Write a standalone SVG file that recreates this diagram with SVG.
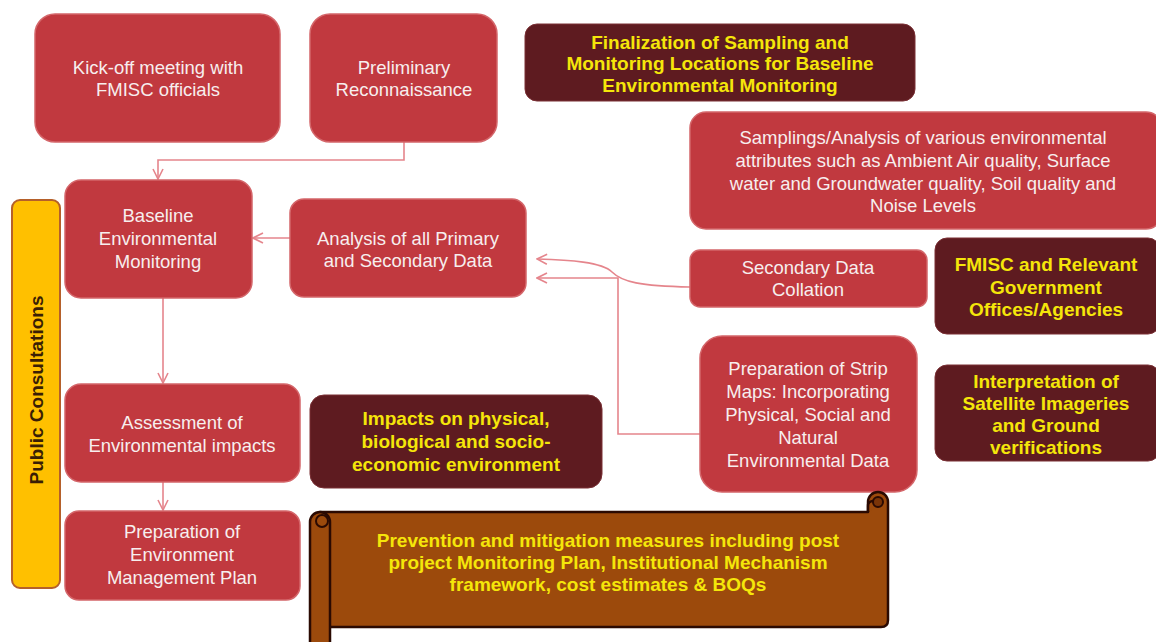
<svg xmlns="http://www.w3.org/2000/svg" width="1156" height="642" viewBox="0 0 1156 642">
<defs>
<style>
.red{fill:#C1393F;stroke:#D4666A;stroke-width:1.5}
.dark{fill:#5E1B20;stroke:#7A3035;stroke-width:1}
.wt{font-family:"Liberation Sans",Arial,sans-serif;font-size:18.5px;fill:#F7EEEE;text-anchor:middle}
.yt{font-family:"Liberation Sans",Arial,sans-serif;font-size:19px;font-weight:bold;fill:#F5E60A;text-anchor:middle}
.conn{fill:none;stroke:#E5858C;stroke-width:1.6}
.scroll{fill:#9C4A0C;stroke:#2B0A02;stroke-width:2.5;stroke-linejoin:round}
</style>
<marker id="arr" viewBox="0 0 12 12" refX="11" refY="6" markerWidth="12" markerHeight="12" markerUnits="userSpaceOnUse" orient="auto">
<path d="M1,1 L11,6 L1,11" fill="none" stroke="#E5858C" stroke-width="1.6"/>
</marker>
</defs>
<rect width="1156" height="642" fill="#FFFFFF"/>

<g id="connectors">
<path class="conn" d="M404,142 V160 H158 V179" marker-end="url(#arr)"/>
<path class="conn" d="M290,238 H253" marker-end="url(#arr)"/>
<path class="conn" d="M163,298 V383" marker-end="url(#arr)"/>
<path class="conn" d="M163,482 V510" marker-end="url(#arr)"/>
<path class="conn" d="M690,287 C640,286 622,282 612,272 C602,262 570,260 537,259" marker-end="url(#arr)"/>
<path class="conn" d="M700,434 H618 V278 H537" marker-end="url(#arr)"/>
</g>

<g id="kickoff">
<rect class="red" x="35" y="14" width="245" height="128" rx="20"/>
<text class="wt" x="158" y="74">Kick-off meeting with</text>
<text class="wt" x="158" y="96">FMISC officials</text>
</g>

<g id="preliminary">
<rect class="red" x="310" y="14" width="187" height="128" rx="20"/>
<text class="wt" x="404" y="74">Preliminary</text>
<text class="wt" x="404" y="96">Reconnaissance</text>
</g>

<g id="finalization">
<rect class="dark" x="525" y="24" width="390" height="77" rx="12"/>
<text class="yt" x="720" y="49">Finalization of Sampling and</text>
<text class="yt" x="720" y="70">Monitoring Locations for Baseline</text>
<text class="yt" x="720" y="92">Environmental Monitoring</text>
</g>

<g id="samplings">
<rect class="red" x="690" y="112" width="472" height="117" rx="16"/>
<text class="wt" x="923" y="144">Samplings/Analysis of various environmental</text>
<text class="wt" x="923" y="167">attributes such as Ambient Air quality, Surface</text>
<text class="wt" x="923" y="190">water and Groundwater quality, Soil quality and</text>
<text class="wt" x="923" y="212">Noise Levels</text>
</g>

<g id="public-consultations">
<rect x="12" y="200" width="48" height="388" rx="8" fill="#FFC000" stroke="#B5602A" stroke-width="2"/>
<text x="0" y="0" transform="translate(43,390) rotate(-90)" font-family="'Liberation Sans',Arial,sans-serif" font-size="19" font-weight="bold" fill="#3A1E05" text-anchor="middle">Public Consultations</text>
</g>

<g id="baseline">
<rect class="red" x="65" y="180" width="187" height="118" rx="16"/>
<text class="wt" x="158" y="222">Baseline</text>
<text class="wt" x="158" y="245">Environmental</text>
<text class="wt" x="158" y="268">Monitoring</text>
</g>

<g id="analysis">
<rect class="red" x="290" y="199" width="236" height="98" rx="14"/>
<text class="wt" x="408" y="245">Analysis of all Primary</text>
<text class="wt" x="408" y="267">and Secondary Data</text>
</g>

<g id="secondary">
<rect class="red" x="690" y="250" width="237" height="57" rx="10"/>
<text class="wt" x="808" y="274">Secondary Data</text>
<text class="wt" x="808" y="296">Collation</text>
</g>

<g id="fmisc-agencies">
<rect class="dark" x="935" y="238" width="225" height="96" rx="12"/>
<text class="yt" x="1046" y="271">FMISC and Relevant</text>
<text class="yt" x="1046" y="294">Government</text>
<text class="yt" x="1046" y="316">Offices/Agencies</text>
</g>

<g id="strip-maps">
<rect class="red" x="700" y="336" width="217" height="156" rx="22"/>
<text class="wt" x="808" y="375">Preparation of Strip</text>
<text class="wt" x="808" y="398">Maps: Incorporating</text>
<text class="wt" x="808" y="421">Physical, Social and</text>
<text class="wt" x="808" y="444">Natural</text>
<text class="wt" x="808" y="467">Environmental Data</text>
</g>

<g id="interpretation">
<rect class="dark" x="935" y="365" width="225" height="96" rx="12"/>
<text class="yt" x="1046" y="388">Interpretation of</text>
<text class="yt" x="1046" y="410">Satellite Imageries</text>
<text class="yt" x="1046" y="432">and Ground</text>
<text class="yt" x="1046" y="454">verifications</text>
</g>

<g id="assessment">
<rect class="red" x="65" y="384" width="235" height="98" rx="16"/>
<text class="wt" x="182" y="429">Assessment of</text>
<text class="wt" x="182" y="452">Environmental impacts</text>
</g>

<g id="impacts">
<rect class="dark" x="310" y="395" width="292" height="93" rx="14"/>
<text class="yt" x="456" y="425">Impacts on physical,</text>
<text class="yt" x="456" y="448">biological and socio-</text>
<text class="yt" x="456" y="471">economic environment</text>
</g>

<g id="emp">
<rect class="red" x="65" y="511" width="235" height="89" rx="14"/>
<text class="wt" x="182" y="538">Preparation of</text>
<text class="wt" x="182" y="561">Environment</text>
<text class="wt" x="182" y="584">Management Plan</text>
</g>

<g id="mitigation-scroll">
<path class="scroll" d="M320,512 H868 V502 A10,10 0 0 1 888,502 V620 Q888,627 881,627 H320 Z"/>
<path class="scroll" d="M868,512 V506 A5,5 0 0 1 878,506" fill="none"/>
<circle cx="878" cy="502" r="5" fill="#7A3408" stroke="#2B0A02" stroke-width="2"/>
<path class="scroll" d="M310,522 A10,10 0 0 1 330,522 V646 H310 Z"/>
<circle cx="322" cy="521" r="6" fill="none" stroke="#2B0A02" stroke-width="2"/>
<text class="yt" x="608" y="547">Prevention and mitigation measures including post</text>
<text class="yt" x="608" y="569">project Monitoring Plan, Institutional Mechanism</text>
<text class="yt" x="608" y="591">framework, cost estimates &amp; BOQs</text>
</g>
</svg>
